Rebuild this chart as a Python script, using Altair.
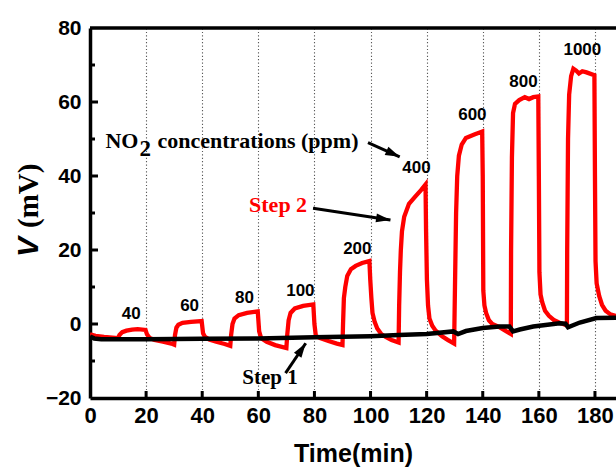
import math
import altair as alt
import pandas as pd

# ---------------- data ----------------
red_t = [0, 2, 5, 8, 10,
         10.5, 11.5, 13, 15, 17, 19.8,
         20.3, 21.3, 23, 26, 29, 30,
         30.3, 30.8, 31.5, 33, 36, 39.8,
         40.3, 41, 42.5, 45, 48, 50,
         50.3, 50.8, 51.5, 53, 56, 59.8,
         60.3, 61, 63, 66, 70,
         70.3, 70.8, 71.5, 73, 76, 79.6,
         80, 80.5, 82, 85, 88, 90,
         90.2, 90.5, 91, 91.7, 93, 94.7, 97, 99.6,
         99.9, 100.3, 100.7, 101.5, 102.4, 103.8, 105.4, 107.5, 110,
         110.2, 110.5, 110.8, 111.2, 112, 113.7, 116, 118, 119.6,
         119.8, 120.1, 120.5, 121, 122, 123.2, 125.5, 127.5, 129.8,
         130.1, 130.5, 130.9, 131.5, 132.5, 134, 137, 139.8,
         140, 140.2, 140.6, 141.2, 142.2, 143.4, 145.8, 148, 150,
         150.1, 150.4, 150.8, 151.5, 153, 155, 156.5, 158, 159.8,
         160, 160.2, 160.6, 161.2, 162.2, 163.6, 165.5, 167.2, 170,
         170.1, 170.4, 170.8, 171.5, 172.3, 173.3, 174.3, 175.5, 177, 179.8,
         180, 180.2, 180.6, 181.5, 182.5, 183.8, 185.5, 187.5]
red_v = [-2.8, -3.2, -3.5, -3.7, -3.8,
         -3.0, -2.2, -1.8, -1.5, -1.4, -1.6,
         -2.8, -3.8, -4.3, -4.8, -5.3, -5.6,
         -3.0, -1.0, -0.2, 0.3, 0.6, 0.8,
         -2.5, -3.5, -4.2, -4.8, -5.4, -5.9,
         -3.0, 0.0, 1.5, 2.4, 3.0, 3.4,
         -2.0, -3.8, -4.8, -5.7, -6.5,
         -3.0, 1.0, 3.0, 4.2, 4.9, 5.3,
         0.0, -3.2, -3.8, -4.6, -5.3, -5.7,
         0.0, 7.0, 10.0, 13.0, 14.8, 15.7, 16.5, 17.0,
         12.0, 7.0, 3.0, 0.5, -1.2, -2.7, -3.5, -4.3, -5.0,
         5.0, 14.0, 20.0, 25.0, 29.0, 32.5, 34.5, 36.2, 37.7,
         25.0, 12.0, 5.0, 1.5, -0.5, -1.8, -3.3, -4.3, -5.3,
         10.0, 30.0, 40.0, 45.5, 48.5, 50.3, 51.2, 52.0,
         40.0, 9.0, 5.0, 3.0, 1.0, 0.0, -0.8, -1.8, -2.7,
         20.0, 45.0, 57.0, 59.5, 60.5, 61.3, 60.8, 61.3, 61.5,
         40.0, 14.0, 8.0, 5.9, 3.6, 2.2, 1.0, 0.4, -0.4,
         20.0, 50.0, 62.0, 67.0, 69.0, 68.5, 67.7, 68.3, 68.0, 67.2,
         40.0, 17.0, 11.0, 7.6, 5.2, 3.6, 2.6, 2.2]

black_t = [0, 1.5, 4, 20, 40, 60, 80, 100, 110, 120, 129.5, 131.2, 134,
           140, 146, 149.5, 150.8, 153.2, 158, 167.4, 169.5, 170.4, 174.6,
           180.5, 187.5]
black_v = [-3.4, -3.9, -4.1, -4.1, -4.0, -3.9, -3.6, -3.3, -3.0, -2.7, -2.0,
           -2.7, -1.9, -1.1, -0.7, -0.7, -2.0, -1.5, -0.7, 0.2, 0.1, -0.9,
           0.4, 1.6, 1.7]

conc_labels = ["40", "60", "80", "100", "200", "400", "600", "800", "1000"]
conc_t = [14.7, 35.5, 55.1, 75.0, 95.3, 116.4, 136.3, 154.5, 175.5]
conc_v = [2.7, 5.0, 7.0, 8.8, 20.3, 42.2, 56.6, 65.3, 74.0]

x_grid_values = list(range(0, 181, 10))
x_major_ticks = list(range(20, 181, 20))
y_major_values = [-20, 0, 20, 40, 60, 80]
y_major_ticks = [0, 20, 40, 60]
y_minor_ticks = [-10, 10, 30, 50, 70]

# arrows: (start t, start v) -> (tip t, tip v)
arrow_start_t = [99.1, 79.5, 69.7]
arrow_start_v = [49.0, 31.3, -13.3]
arrow_tip_t = [110.4, 107.1, 76.9]
arrow_tip_v = [45.2, 28.1, -5.2]

note_t = [5.5]
note_v = [47.7]
step2_t, step2_v = [56.7], [30.3]
step1_t, step1_v = [54.3], [-16.2]

# ---------------- layout ----------------
W, H = 526, 370
XMAX = 187.5
YMIN, YMAX = -20, 80
xs = alt.Scale(domain=[0, XMAX], nice=False, zero=False)
ys = alt.Scale(domain=[YMIN, YMAX], nice=False, zero=False)
SANS = "Liberation Sans"
SERIF = "Liberation Serif"

red_df = pd.DataFrame({"t": red_t, "v": red_v, "i": range(len(red_t))})
black_df = pd.DataFrame({"t": black_t, "v": black_v, "i": range(len(black_t))})
conc_df = pd.DataFrame({"t": conc_t, "v": conc_v, "label": conc_labels})

rows = []
heads = []
px_per_t = W / XMAX
px_per_v = H / (YMAX - YMIN)
for k in range(len(arrow_start_t)):
    rows.append({"id": k, "o": 0, "t": arrow_start_t[k], "v": arrow_start_v[k]})
    rows.append({"id": k, "o": 1, "t": arrow_tip_t[k], "v": arrow_tip_v[k]})
    dx = (arrow_tip_t[k] - arrow_start_t[k]) * px_per_t
    dy = -(arrow_tip_v[k] - arrow_start_v[k]) * px_per_v
    ang = math.degrees(math.atan2(dx, -dy)) % 360
    heads.append({"t": arrow_tip_t[k], "v": arrow_tip_v[k], "ang": ang})
arrow_df = pd.DataFrame(rows)
head_df = pd.DataFrame(heads)

x_axis = alt.Axis(
    values=x_grid_values,
    labelExpr="datum.value % 20 == 0 ? datum.label : ''",
    grid=True, gridDash=[1.2, 2.2], gridColor="#5a5a5a", gridWidth=1.1,
    ticks=False, tickSize=0,
    domainWidth=3.5, domainColor="black",
    labelFont=SANS, labelFontWeight="bold", labelFontSize=22, labelColor="black",
    labelPadding=7, labelFlush=False, labelOverlap=False,
    title="Time(min)", titleFont=SANS, titleFontWeight="bold", titleFontSize=25,
    titleColor="black", titlePadding=15,
)
y_axis = alt.Axis(
    values=y_major_values, grid=False, ticks=False, tickSize=0,
    domainWidth=3.5, domainColor="black",
    labelFont=SANS, labelFontWeight="bold", labelFontSize=21, labelColor="black",
    labelPadding=9, labelFlush=False, labelOverlap=False, title="",
)

X = alt.X("t:Q", scale=xs)
Y = alt.Y("v:Q", scale=ys)

red_line = alt.Chart(red_df).mark_line(color="#ff0000", strokeWidth=4.3, clip=True).encode(
    x=alt.X("t:Q", scale=xs, axis=x_axis),
    y=alt.Y("v:Q", scale=ys, axis=y_axis),
    order="i:Q",
)
black_line = alt.Chart(black_df).mark_line(color="black", strokeWidth=4.5, clip=True).encode(
    x=X, y=Y, order="i:Q",
)

top_line = alt.Chart(pd.DataFrame({"a": [0]})).mark_rule(color="black", strokeWidth=3.5).encode(
    x=alt.value(0), x2=alt.value(W), y=alt.value(0)
)
x_ticks = alt.Chart(pd.DataFrame({"t": x_major_ticks})).mark_rule(color="black", strokeWidth=3).encode(
    x=X, y=alt.value(H - 7), y2=alt.value(H)
)
y_ticks_major = alt.Chart(pd.DataFrame({"v": y_major_ticks})).mark_rule(color="black", strokeWidth=3).encode(
    y=Y, x=alt.value(0), x2=alt.value(8)
)
y_ticks_minor = alt.Chart(pd.DataFrame({"v": y_minor_ticks})).mark_rule(color="black", strokeWidth=3).encode(
    y=Y, x=alt.value(0), x2=alt.value(5)
)

conc_text = alt.Chart(conc_df).mark_text(
    font=SANS, fontWeight="bold", fontSize=17, color="black", align="center", baseline="middle"
).encode(x=X, y=Y, text="label:N")

def note(text, t, v, dx=0, dy=0, color="black", size=22, font=SERIF):
    df = pd.DataFrame({"t": t, "v": v, "label": [text]})
    return alt.Chart(df).mark_text(
        font=font, fontWeight="bold", fontSize=size, color=color,
        align="left", baseline="alphabetic", dx=dx, dy=dy
    ).encode(x=X, y=Y, text="label:N")

no_text = note("NO", note_t, note_v)
sub_text = note("2", note_t, note_v, dx=34, dy=8, size=23)
conc_note = note("concentrations (ppm)", note_t, note_v, dx=52)
step2 = note("Step 2", step2_t, step2_v, color="#ff0000", size=22)
step1 = note("Step 1", step1_t, step1_v, size=21)

arrow_lines = alt.Chart(arrow_df).mark_line(color="black", strokeWidth=3).encode(
    x=X, y=Y, detail="id:N", order="o:Q",
)
arrow_heads = alt.Chart(head_df).mark_point(
    shape="M0,0L0.75,2.4L-0.75,2.4Z", filled=True, size=144, color="black", opacity=1, strokeWidth=0
).encode(
    x=X, y=Y, angle=alt.Angle("ang:Q", scale=None),
)

ytitle_v = alt.Chart(pd.DataFrame({"label": ["V"]})).mark_text(
    font=SANS, fontWeight="bold", fontStyle="italic", fontSize=30, color="black",
    angle=270, align="left", baseline="alphabetic"
).encode(x=alt.value(-52), y=alt.value(229), text="label:N")
ytitle_unit = alt.Chart(pd.DataFrame({"label": ["(mV)"]})).mark_text(
    font=SERIF, fontWeight="bold", fontSize=29, color="black",
    angle=270, align="left", baseline="alphabetic"
).encode(x=alt.value(-52), y=alt.value(200), text="label:N")

chart = alt.layer(
    red_line, black_line, top_line, x_ticks, y_ticks_major, y_ticks_minor,
    conc_text, no_text, sub_text, conc_note, step2, step1,
    arrow_lines, arrow_heads, ytitle_v, ytitle_unit,
).properties(
    width=W, height=H,
    autosize=alt.AutoSizeParams(type="none"),
    padding={"left": 90, "top": 28, "right": 0, "bottom": 70},
    background="white",
).configure_view(stroke=None)

chart.save("out.html", embed_options={"renderer": "svg", "actions": False})
